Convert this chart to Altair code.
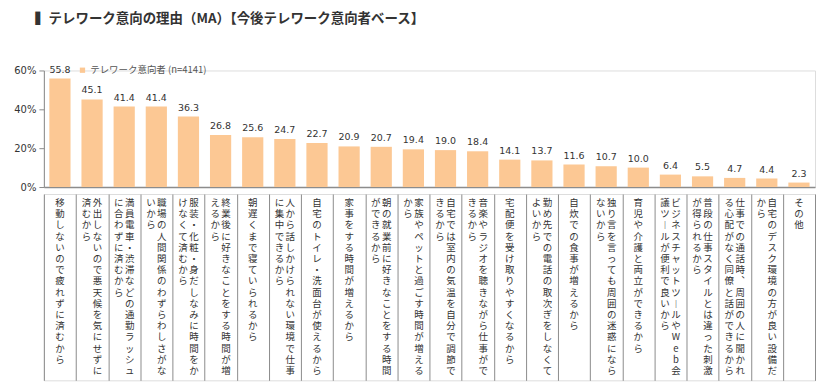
import altair as alt
import pandas as pd

title_text = "テレワーク意向の理由（MA）【今後テレワーク意向者ベース】"
series_name = "テレワーク意向者 (n=4141)"

categories = [
    "移動しないので疲れずに済むから",
    "外出しないので悪天候を気にせずに済むから",
    "満員電車・渋滞などの通勤ラッシュに合わずに済むから",
    "職場の人間関係のわずらわしさがないから",
    "服装・化粧・身だしなみに時間をかけなくて済むから",
    "終業後に好きなことをする時間が増えるから",
    "朝遅くまで寝ていられるから",
    "人から話しかけられない環境で仕事に集中できるから",
    "自宅のトイレ・洗面台が使えるから",
    "家事をする時間が増えるから",
    "朝の就業前に好きなことをする時間ができるから",
    "家族やペットと過ごす時間が増えるから",
    "自宅では室内の気温を自分で調節できるから",
    "音楽やラジオを聴きながら仕事ができるから",
    "宅配便を受け取りやすくなるから",
    "勤め先での電話の取次ぎをしなくてよいから",
    "自炊での食事が増えるから",
    "独り言を言っても周囲の迷惑にならないから",
    "育児や介護と両立ができるから",
    "ビジネスチャットツールやWeb会議ツールが便利で良いから",
    "普段の仕事スタイルとは違った刺激が得られるから",
    "仕事での通話時、周囲の人に聞かれる心配がなく同僚と話ができるから",
    "自宅のデスク環境の方が良い設備だから",
    "その他",
]
values = [55.8, 45.1, 41.4, 41.4, 36.3, 26.8, 25.6, 24.7, 22.7, 20.9, 20.7, 19.4,
          19.0, 18.4, 14.1, 13.7, 11.6, 10.7, 10.0, 6.4, 5.5, 4.7, 4.4, 2.3]
y_max = 60

CHARS_PER_COL = 16
VERTICAL_FORMS = {"ー": "︱", "、": "︑"}

bars_df = pd.DataFrame({"cat": categories, "pct": values, "series": series_name})

rows = []
for cat in categories:
    chars = list(cat)
    ncols = (len(chars) + CHARS_PER_COL - 1) // CHARS_PER_COL
    for k, ch in enumerate(chars):
        col = k // CHARS_PER_COL
        pos = "C" if ncols == 1 else ("R" if col == 0 else "L")
        rows.append({"cat": cat, "row": k % CHARS_PER_COL, "pos": pos,
                     "ch": VERTICAL_FORMS.get(ch, ch)})
chars_df = pd.DataFrame(rows)

W = 774
x_scale = alt.Scale(domain=categories, paddingInner=0, paddingOuter=0)
NUM_FONT = "DejaVu Sans"
JP_FONT = "Noto Sans CJK JP"
GRAY = "#8c8c8c"

y_axis = alt.Axis(tickCount=3, labelExpr="datum.value + '%'", grid=False,
                  title=None, domainColor=GRAY, tickColor=GRAY, tickSize=5,
                  labelFont=NUM_FONT, labelFontSize=10, labelColor="#333",
                  labelPadding=3)

base = alt.Chart(bars_df).encode(
    x=alt.X("cat:N", sort=None, scale=x_scale,
            axis=alt.Axis(labels=False, ticks=False, title=None, domainColor=GRAY, domainWidth=1.5)),
    y=alt.Y("pct:Q", scale=alt.Scale(domain=[0, y_max], nice=False, zero=True), axis=y_axis),
)
bars = base.mark_bar(width={"band": 0.66}).encode(
    color=alt.Color("series:N", scale=alt.Scale(range=["#FCC894"]),
                    legend=alt.Legend(orient="none", legendX=34, legendY=-5, title=None,
                                      symbolType="square", symbolSize=28,
                                      symbolStrokeWidth=0, labelLimit=300, labelOffset=3,
                                      labelFont=JP_FONT, labelFontSize=9.5, labelColor="#555")),
)
labels = base.mark_text(baseline="alphabetic", dy=-6, font=NUM_FONT, fontSize=9.5,
                        color="#333").encode(
    text=alt.Text("pct:Q", format=".1f"),
)
top = alt.layer(bars, labels).properties(width=W, height=117)

cbase = alt.Chart(chars_df)
def char_layer(pos, dx):
    return cbase.transform_filter(alt.datum.pos == pos).mark_text(
        font=JP_FONT, fontSize=9.5, color="#333", baseline="middle", align="center", dx=dx
    ).encode(
        x=alt.X("cat:N", sort=None, scale=x_scale,
                axis=alt.Axis(labels=False, ticks=False, domain=False, title=None,
                              grid=True, tickBand="extent", gridColor=GRAY, gridWidth=1)),
        y=alt.Y("row:Q", scale=alt.Scale(domain=[-0.8, 15.84], reverse=True, nice=False, zero=False),
                axis=None),
        text="ch:N",
    )

bottom = alt.layer(char_layer("C", 0), char_layer("R", 5.5), char_layer("L", -5.5)).properties(
    width=W, height=187)

chart = alt.vconcat(top, bottom, spacing=0).resolve_scale(y="independent").properties(
    title=alt.TitleParams(text="▍" + title_text, anchor="start", font=JP_FONT, fontSize=13.5,
                          fontWeight="bold", color="#333", offset=39, dx=22),
    padding={"left": 5, "right": 2, "top": 3, "bottom": 1},
).configure_view(stroke=GRAY, strokeWidth=1.2).configure(background="white")

chart.save("out.html", embed_options={"renderer": "svg", "actions": False})
